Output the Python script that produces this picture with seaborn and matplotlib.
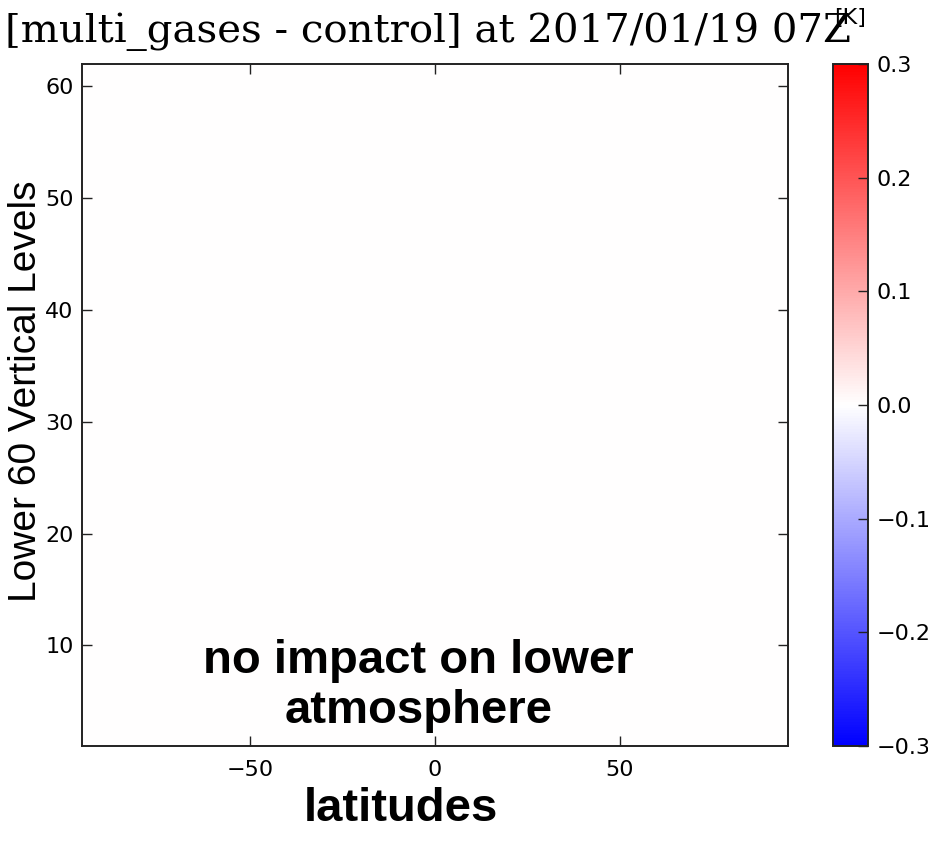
import numpy as np
import pandas as pd
import matplotlib
matplotlib.use("Agg")
import matplotlib.pyplot as plt
import seaborn as sns

# ---- data (difference field is zero everywhere: "no impact") ----
lat_edges_min = -95.5
lat_edges_max = 95.5
level_min = 1
level_max = 62
lat_centers = np.arange(-95, 96, 1)          # 191 latitude columns
level_centers = np.arange(1.5, 62, 1)        # 61 level rows
diff_values = np.zeros((len(level_centers), len(lat_centers)))

x_ticks = [-50, 0, 50]
y_ticks = [10, 20, 30, 40, 50, 60]
cbar_ticks = [-0.3, -0.2, -0.1, 0.0, 0.1, 0.2, 0.3]
vmin, vmax = -0.3, 0.3

title = "[multi_gases - control] at 2017/01/19 07Z"
xlabel = "latitudes"
ylabel = "Lower 60 Vertical Levels"
note = "no impact on lower\natmosphere"
cbar_unit = "[K]"

# ---- figure ----
sns.set_style("white")
plt.rcParams["font.family"] = ["DejaVu Sans"]
plt.rcParams["text.color"] = "black"
plt.rcParams["axes.labelcolor"] = "black"
plt.rcParams["axes.axisbelow"] = False

W, H = 929, 843
fig = plt.figure(figsize=(W / 100, H / 100), dpi=100)
fig.patch.set_facecolor("white")

ax = fig.add_axes([82 / W, 1 - 746 / H, (788 - 82) / W, (746 - 64) / H])
cax = fig.add_axes([833 / W, 1 - 746 / H, (868 - 833) / W, (746 - 64) / H])

df = pd.DataFrame(diff_values, index=level_centers, columns=lat_centers)
sns.heatmap(df, ax=ax, cbar_ax=cax, cmap="bwr", vmin=vmin, vmax=vmax,
            xticklabels=False, yticklabels=False,
            cbar_kws={"ticks": cbar_ticks})
ax.set_axisbelow(False)
cax.set_axisbelow(False)

# map data coordinates to heatmap cell indices
ax.set_xlim(0, len(lat_centers))
ax.set_ylim(0, len(level_centers))
ax.set_xticks([x - lat_edges_min for x in x_ticks])
ax.set_xticklabels([f"{x}".replace("-", "\u2212") for x in x_ticks], fontsize=16)
ax.set_yticks([y - level_min for y in y_ticks])
ax.set_yticklabels([str(y) for y in y_ticks], fontsize=16, rotation=0)

for s in ax.spines.values():
    s.set_visible(True)
    s.set_color("#222222")
    s.set_linewidth(1.4)
ax.tick_params(direction="in", length=7, width=1, top=True, right=True,
               bottom=True, left=True, labeltop=False, labelright=False,
               color="#222222", labelcolor="black", pad=6)
ax.tick_params(axis="x", pad=10)

ax.set_title(title, family="DejaVu Serif", fontsize=29, pad=16, x=0.49)
ax.set_xlabel(xlabel, family="Liberation Sans", fontweight="bold",
              fontsize=34, va="top")
ax.xaxis.set_label_coords(0.452, -0.06)
ax.set_ylabel(ylabel, family="Liberation Sans", fontsize=28)
ax.yaxis.set_label_coords(-0.054, 0.52)

ax.text(0.477, 0.088, note, transform=ax.transAxes, ha="center", va="center",
        family="Liberation Sans", fontweight="bold", fontsize=34,
        linespacing=1.15)

# colorbar styling
cbar = ax.collections[0].colorbar
cbar.outline.set_visible(True)
cbar.outline.set_edgecolor("#222222")
cbar.outline.set_linewidth(1.4)
cbar.ax.tick_params(direction="in", length=7, width=1, labelsize=16, pad=6,
                    color="#222222", labelcolor="black")
cbar.ax.set_yticklabels([f"{t:.1f}".replace("-", "\u2212") for t in cbar_ticks])
cax.set_title(cbar_unit, fontsize=16, pad=29)

fig.savefig("out.png", dpi=100, facecolor="white")
